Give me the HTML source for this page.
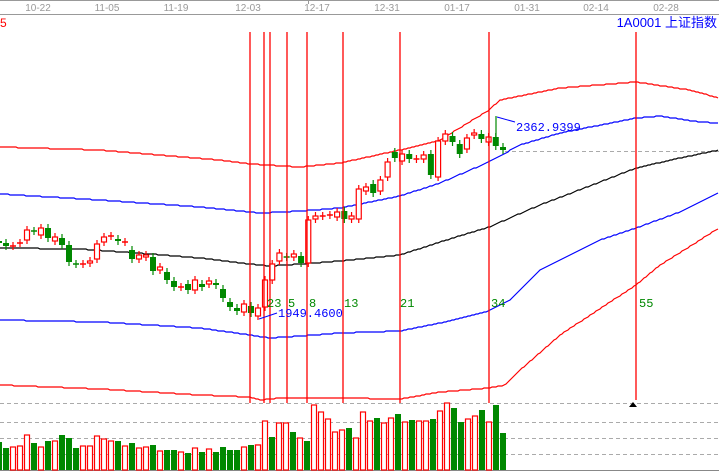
<!DOCTYPE html>
<html><head><meta charset="utf-8"><style>
html,body{margin:0;padding:0;background:#fff;width:719px;height:472px;overflow:hidden}
svg{display:block}
</style></head><body>
<svg id="s" width="719" height="472" xmlns="http://www.w3.org/2000/svg" font-family="Liberation Sans, sans-serif">
<rect width="719" height="472" fill="#fff"/>
<line x1="0" y1="0.5" x2="719" y2="0.5" stroke="#999"/>
<line x1="0" y1="14.5" x2="719" y2="14.5" stroke="#999"/>
<line x1="308.5" y1="0" x2="308.5" y2="4" stroke="#999"/>
<g font-size="10" fill="#999" text-anchor="middle">
<text x="38" y="11">10-22</text><text x="107" y="11">11-05</text><text x="176" y="11">11-19</text>
<text x="248" y="11">12-03</text><text x="317" y="11">12-17</text><text x="387" y="11">12-31</text>
<text x="457" y="11">01-17</text><text x="527" y="11">01-31</text><text x="596" y="11">02-14</text><text x="666" y="11">02-28</text>
</g>
<text x="0" y="27" font-size="12" fill="red">5</text>
<text x="717" y="27" font-size="13" fill="#00f" text-anchor="end" font-family="Liberation Sans, Noto Sans CJK SC, sans-serif">1A0001 上证指数</text>
<g stroke="#aaa" stroke-dasharray="4,3">
<line x1="0" y1="403.5" x2="719" y2="403.5"/><line x1="0" y1="422.5" x2="719" y2="422.5"/>
<line x1="0" y1="438.5" x2="719" y2="438.5"/><line x1="0" y1="454.5" x2="719" y2="454.5"/>
<line x1="505" y1="151.5" x2="719" y2="151.5"/>
</g>
<line x1="0" y1="470.5" x2="719" y2="470.5" stroke="#888"/>
<g id="lines" fill="none" stroke-width="1.2"></g>
<g id="cand"></g>
<g id="vol"></g>
<g stroke="red" stroke-width="1.3">
<line x1="250" y1="32" x2="250" y2="403"/><line x1="264" y1="32" x2="264" y2="403"/>
<line x1="270" y1="32" x2="270" y2="403"/><line x1="287" y1="32" x2="287" y2="403"/>
<line x1="307" y1="32" x2="307" y2="403"/><line x1="343" y1="32" x2="343" y2="403"/>
<line x1="400" y1="32" x2="400" y2="403"/><line x1="489" y1="32" x2="489" y2="403"/>
<line x1="636" y1="32" x2="636" y2="400"/>
</g>
<polygon points="629,407 633,402 637,407" fill="#000"/>
<g font-size="12" fill="#080" font-family="Liberation Mono, monospace">
<text x="267" y="307">23</text><text x="288" y="307">5</text><text x="309" y="307">8</text>
<text x="344" y="307">13</text><text x="400" y="307">21</text><text x="491" y="307">34</text><text x="639" y="307">55</text>
</g>
<g font-size="12" fill="#00f" font-family="Liberation Mono, monospace">
<text x="278" y="317">1949.4600</text><text x="516" y="131">2362.9399</text>
</g>
<polyline points="259,319 277,313" stroke="#00f" fill="none"/>
<polyline points="497,117 515,122" stroke="#00f" fill="none"/>
</svg>
<script>
const NS="http://www.w3.org/2000/svg";
function el(p,t,a){const e=document.createElementNS(NS,t);for(const k in a)e.setAttribute(k,a[k]);p.appendChild(e);return e;}
function interp(pts){let s=[];for(let x=0;x<=719;x+=2){let i=0;while(i<pts.length-2&&pts[i+1][0]<x)i++;const a=pts[i],b=pts[i+1];const t=Math.max(0,Math.min(1,(x-a[0])/(b[0]-a[0])));s.push(x+","+Math.round(a[1]+(b[1]-a[1])*t));}return s.join(" ");}
const L=document.getElementById("lines");
const lines=[
["red",[[0,147],[100,150],[220,160],[250,164],[300,167],[340,163],[400,150],[440,140],[489,110],[500,100],[560,88],[636,82],[690,90],[719,98]]],
["#00f",[[0,194],[100,200],[200,207],[260,213],[300,211],[340,208],[400,196],[440,183],[489,162],[520,145],[560,133],[636,118],[660,116],[700,122],[719,123]]],
["#000",[[0,248],[80,249],[150,254],[200,258],[250,264],[270,266],[300,264],[340,261],[400,255],[440,242],[489,227],[540,205],[600,182],[636,168],[680,158],[719,150]]],
["#00f",[[0,320],[100,322],[200,328],[250,335],[270,338],[300,336],[340,333],[400,331],[440,323],[489,311],[510,300],[540,270],[600,240],[636,228],[680,212],[719,193]]],
["red",[[0,385],[100,389],[200,395],[250,397],[260,400],[280,398],[340,398],[400,399],[440,392],[489,388],[505,385],[520,370],[560,335],[636,285],[660,265],[700,240],[719,228]]]];
lines.forEach(l=>el(L,"polyline",{points:interp(l[1]),stroke:l[0]}));
const C=document.getElementById("cand");
const a=[["g",241,243],["g",243,246],["r",246,246],["r",243,243],["r",230,240],["g",231,231],["r",228,235],["g",228,238],["r",237,241],["g",238,245],["g",245,262],["g",264,264],["r",264,264],["r",261,263],["r",244,259],["r",237,242],["r",236,236],["g",239,241],["r",242,242],["g",250,259],["r",255,259],["r",255,257],["g",257,271],["r",267,270],["g",272,280],["g",281,287],["r",287,287],["g",284,290],["r",280,290],["g",284,287],["r",281,284],["g",283,285],["g",289,298],["g",302,307],["g",308,311],["r",304,312],["g",306,313],["r",308,316]];
const b=[["r",280,307],["r",264,280],["r",253,261],["g",257,257],["r",254,257],["g",256,263],["r",220,263],["r",216,219],["r",216,216],["r",215,215],["r",212,217],["g",211,219],["r",216,219],["r",189,219],["r",187,191],["g",184,193],["r",180,191],["r",162,177],["g",152,158],["r",154,161],["g",154,159],["r",159,159],["r",155,159],["g",154,175],["r",141,177],["r",134,141],["g",136,142],["g",144,154],["r",138,149],["r",133,135],["g",134,139],["r",137,142],["g",137,146],["g",147,150]];
function candle(x,c){const col=c[0]=="r"?"red":"#080";const t=c[1],bt=c[2];
el(C,"line",{x1:x,y1:t-4,x2:x,y2:bt+4,stroke:col,"stroke-width":1.2});
if(bt-t<1)el(C,"line",{x1:x-3,y1:t,x2:x+3,y2:t,stroke:col,"stroke-width":1.5});
else if(c[0]=="r")el(C,"rect",{x:x-2.5,y:t,width:5,height:bt-t,fill:"#fff",stroke:col,"stroke-width":1.2});
else el(C,"rect",{x:x-3,y:t,width:6,height:bt-t,fill:col});}
a.forEach((c,i)=>candle(-1+7*i,c));
b.forEach((c,i)=>candle(265+i*(238/33),c));
el(C,"line",{x1:496,y1:116,x2:496,y2:137,stroke:"#080","stroke-width":1.2});
const V=document.getElementById("vol");
const v1=[442,448,447,446,435,443,447,441,441,435,438,448,446,446,436,439,441,441,446,443,448,447,445,451,450,450,452,453,448,452,449,452,447,450,450,447,445,445];
const v2=[["g",445],["r",445],["r",421],["g",437],["r",423],["r",423],["g",432],["r",438],["g",441],["r",405],["r",412],["r",419],["r",432],["r",430],["g",428],["r",438],["r",412],["r",421],["g",418],["r",423],["r",418],["g",414],["r",422],["g",420],["r",421],["r",421],["g",419],["r",411],["r",403],["g",408],["g",422],["r",419],["r",416],["g",410],["r",422],["g",405],["g",433]];
function vbar(x,col,top){if(col=="r")el(V,"rect",{x:x-2.5,y:top,width:5,height:470-top,fill:"#fff",stroke:"red","stroke-width":1.2});else el(V,"rect",{x:x-3,y:top,width:6,height:470-top,fill:"#080"});}
v1.forEach((t,i)=>vbar(-1+7*i,a[i][0],t));
v2.forEach((c,i)=>vbar(251+i*(252/36),c[0],c[1]));
</script>
</body></html>
